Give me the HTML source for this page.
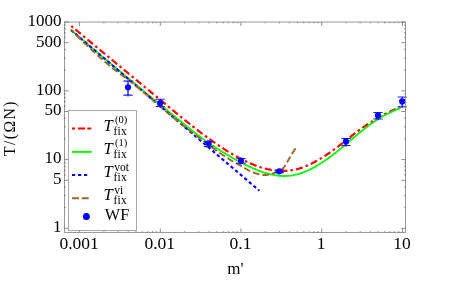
<!DOCTYPE html>
<html><head><meta charset="utf-8"><title>plot</title>
<style>html,body{margin:0;padding:0;background:#fff;}body{width:457px;height:285px;overflow:hidden;position:relative;font-family:"Liberation Serif",serif;}</style>
</head><body>
<svg width="457" height="285" viewBox="0 0 457 285" style="position:absolute;left:0;top:0;will-change:transform">
<rect x="0" y="0" width="457" height="285" fill="#fff"/>
<g fill="none" stroke-linecap="butt" stroke-linejoin="round">
<path d="M71.30 26.01 L72.68 27.16 L74.05 28.31 L75.43 29.46 L76.81 30.61 L78.18 31.76 L79.56 32.91 L80.94 34.06 L82.32 35.20 L83.69 36.35 L85.07 37.50 L86.45 38.64 L87.82 39.79 L89.20 40.93 L90.58 42.08 L91.95 43.22 L93.33 44.37 L94.71 45.51 L96.09 46.66 L97.46 47.80 L98.84 48.94 L100.22 50.09 L101.59 51.23 L102.97 52.37 L104.35 53.51 L105.72 54.66 L107.10 55.80 L108.48 56.94 L109.86 58.08 L111.23 59.22 L112.61 60.36 L113.99 61.51 L115.36 62.65 L116.74 63.79 L118.12 64.93 L119.49 66.07 L120.87 67.21 L122.25 68.35 L123.63 69.49 L125.00 70.63 L126.38 71.77 L127.76 72.91 L129.13 74.05 L130.51 75.19 L131.89 76.33 L133.26 77.47 L134.64 78.61 L136.02 79.75 L137.40 80.89 L138.77 82.03 L140.15 83.17 L141.53 84.31 L142.90 85.45 L144.28 86.59 L145.66 87.73 L147.03 88.87 L148.41 90.01 L149.79 91.15 L151.17 92.29 L152.54 93.43 L153.92 94.57 L155.30 95.71 L156.67 96.85 L158.05 97.99 L159.43 99.13 L160.80 100.28 L162.18 101.42 L163.56 102.56 L164.94 103.70 L166.31 104.84 L167.69 105.99 L169.07 107.13 L170.44 108.27 L171.82 109.40 L173.20 110.54 L174.57 111.68 L175.95 112.81 L177.33 113.94 L178.71 115.07 L180.08 116.20 L181.46 117.32 L182.84 118.44 L184.21 119.55 L185.59 120.67 L186.97 121.77 L188.34 122.88 L189.72 123.98 L191.10 125.07 L192.47 126.16 L193.85 127.24 L195.23 128.32 L196.61 129.39 L197.98 130.45 L199.36 131.51 L200.74 132.56 L202.11 133.60 L203.49 134.64 L204.87 135.66 L206.24 136.68 L207.62 137.69 L209.00 138.70 L210.38 139.69 L211.75 140.68 L213.13 141.65 L214.51 142.62 L215.88 143.57 L217.26 144.52 L218.64 145.45 L220.01 146.38 L221.39 147.29 L222.77 148.19 L224.15 149.08 L225.52 149.96 L226.90 150.83 L228.28 151.68 L229.65 152.52 L231.03 153.35 L232.41 154.17 L233.78 154.97 L235.16 155.75 L236.54 156.53 L237.92 157.29 L239.29 158.03 L240.67 158.76 L242.05 159.47 L243.42 160.17 L244.80 160.85 L246.18 161.51 L247.55 162.15 L248.93 162.77 L250.31 163.38 L251.69 163.96 L253.06 164.53 L254.44 165.08 L255.82 165.60 L257.19 166.10 L258.57 166.58 L259.95 167.04 L261.32 167.48 L262.70 167.89 L264.08 168.28 L265.46 168.64 L266.83 168.98 L268.21 169.29 L269.59 169.58 L270.96 169.84 L272.34 170.07 L273.72 170.28 L275.09 170.46 L276.47 170.61 L277.85 170.73 L279.23 170.82 L280.60 170.89 L281.98 170.92 L283.36 170.92 L284.73 170.89 L286.11 170.82 L287.49 170.73 L288.86 170.60 L290.24 170.44 L291.62 170.25 L292.99 170.02 L294.37 169.75 L295.75 169.45 L297.13 169.12 L298.50 168.75 L299.88 168.34 L301.26 167.90 L302.63 167.43 L304.01 166.92 L305.39 166.39 L306.76 165.82 L308.14 165.22 L309.52 164.60 L310.90 163.94 L312.27 163.26 L313.65 162.55 L315.03 161.82 L316.40 161.07 L317.78 160.29 L319.16 159.48 L320.53 158.66 L321.91 157.82 L323.29 156.95 L324.67 156.06 L326.04 155.16 L327.42 154.24 L328.80 153.30 L330.17 152.34 L331.55 151.37 L332.93 150.38 L334.30 149.38 L335.68 148.36 L337.06 147.33 L338.44 146.28 L339.81 145.23 L341.19 144.16 L342.57 143.09 L343.94 142.00 L345.32 140.92 L346.70 139.83 L348.07 138.73 L349.45 137.64 L350.83 136.56 L352.21 135.48 L353.58 134.41 L354.96 133.35 L356.34 132.30 L357.71 131.27 L359.09 130.26 L360.47 129.26 L361.84 128.28 L363.22 127.32 L364.60 126.37 L365.98 125.44 L367.35 124.52 L368.73 123.62 L370.11 122.74 L371.48 121.87 L372.86 121.01 L374.24 120.17 L375.61 119.34 L376.99 118.53 L378.37 117.73 L379.75 116.95 L381.12 116.18 L382.50 115.42 L383.88 114.68 L385.25 113.95 L386.63 113.25 L388.01 112.56 L389.38 111.88 L390.76 111.23 L392.14 110.60 L393.52 109.99 L394.89 109.40 L396.27 108.83 L397.65 108.28 L399.02 107.76 L400.40 107.26" stroke="#ff0000" stroke-width="2.2" stroke-dasharray="2.6 3.05 7.05 3.05" stroke-dashoffset="0.3"/>
<path d="M70.90 29.87 L72.28 31.06 L73.66 32.25 L75.04 33.44 L76.41 34.62 L77.79 35.80 L79.17 36.99 L80.55 38.17 L81.93 39.35 L83.31 40.52 L84.69 41.70 L86.07 42.88 L87.44 44.05 L88.82 45.23 L90.20 46.40 L91.58 47.57 L92.96 48.74 L94.34 49.91 L95.72 51.08 L97.09 52.24 L98.47 53.41 L99.85 54.57 L101.23 55.74 L102.61 56.90 L103.99 58.06 L105.37 59.22 L106.75 60.38 L108.12 61.54 L109.50 62.70 L110.88 63.85 L112.26 65.01 L113.64 66.16 L115.02 67.32 L116.40 68.47 L117.77 69.62 L119.15 70.77 L120.53 71.92 L121.91 73.07 L123.29 74.22 L124.67 75.37 L126.05 76.51 L127.43 77.66 L128.80 78.80 L130.18 79.95 L131.56 81.09 L132.94 82.23 L134.32 83.38 L135.70 84.52 L137.08 85.66 L138.45 86.80 L139.83 87.94 L141.21 89.07 L142.59 90.21 L143.97 91.35 L145.35 92.49 L146.73 93.62 L148.11 94.76 L149.48 95.89 L150.86 97.02 L152.24 98.16 L153.62 99.29 L155.00 100.42 L156.38 101.55 L157.76 102.68 L159.13 103.82 L160.51 104.95 L161.89 106.07 L163.27 107.20 L164.65 108.33 L166.03 109.46 L167.41 110.59 L168.78 111.71 L170.16 112.84 L171.54 113.96 L172.92 115.09 L174.30 116.21 L175.68 117.33 L177.06 118.45 L178.44 119.57 L179.81 120.68 L181.19 121.80 L182.57 122.91 L183.95 124.02 L185.33 125.13 L186.71 126.24 L188.09 127.34 L189.46 128.44 L190.84 129.54 L192.22 130.64 L193.60 131.73 L194.98 132.81 L196.36 133.89 L197.74 134.96 L199.12 136.02 L200.49 137.06 L201.87 138.10 L203.25 139.12 L204.63 140.13 L206.01 141.12 L207.39 142.10 L208.77 143.06 L210.14 144.01 L211.52 144.95 L212.90 145.87 L214.28 146.79 L215.66 147.68 L217.04 148.57 L218.42 149.45 L219.80 150.31 L221.17 151.17 L222.55 152.01 L223.93 152.85 L225.31 153.67 L226.69 154.48 L228.07 155.29 L229.45 156.09 L230.82 156.88 L232.20 157.66 L233.58 158.43 L234.96 159.20 L236.34 159.96 L237.72 160.72 L239.10 161.46 L240.48 162.20 L241.85 162.92 L243.23 163.64 L244.61 164.34 L245.99 165.03 L247.37 165.71 L248.75 166.37 L250.13 167.02 L251.50 167.66 L252.88 168.27 L254.26 168.87 L255.64 169.45 L257.02 170.02 L258.40 170.56 L259.78 171.08 L261.16 171.58 L262.53 172.06 L263.91 172.52 L265.29 172.95 L266.67 173.35 L268.05 173.73 L269.43 174.09 L270.81 174.42 L272.18 174.72 L273.56 174.99 L274.94 175.23 L276.32 175.44 L277.70 175.62 L279.08 175.76 L280.46 175.88 L281.84 175.96 L283.21 176.00 L284.59 176.01 L285.97 175.99 L287.35 175.92 L288.73 175.82 L290.11 175.68 L291.49 175.50 L292.86 175.28 L294.24 175.02 L295.62 174.72 L297.00 174.39 L298.38 174.01 L299.76 173.60 L301.14 173.15 L302.52 172.67 L303.89 172.16 L305.27 171.61 L306.65 171.03 L308.03 170.41 L309.41 169.77 L310.79 169.09 L312.17 168.39 L313.54 167.65 L314.92 166.89 L316.30 166.11 L317.68 165.29 L319.06 164.45 L320.44 163.59 L321.82 162.70 L323.19 161.79 L324.57 160.86 L325.95 159.90 L327.33 158.93 L328.71 157.94 L330.09 156.92 L331.47 155.89 L332.85 154.84 L334.22 153.78 L335.60 152.70 L336.98 151.60 L338.36 150.49 L339.74 149.37 L341.12 148.23 L342.50 147.09 L343.87 145.94 L345.25 144.78 L346.63 143.62 L348.01 142.46 L349.39 141.29 L350.77 140.12 L352.15 138.95 L353.53 137.79 L354.90 136.63 L356.28 135.47 L357.66 134.33 L359.04 133.19 L360.42 132.06 L361.80 130.94 L363.18 129.83 L364.55 128.74 L365.93 127.67 L367.31 126.61 L368.69 125.58 L370.07 124.56 L371.45 123.56 L372.83 122.59 L374.21 121.64 L375.58 120.72 L376.96 119.83 L378.34 118.97 L379.72 118.13 L381.10 117.32 L382.48 116.54 L383.86 115.78 L385.23 115.04 L386.61 114.32 L387.99 113.62 L389.37 112.94 L390.75 112.27 L392.13 111.62 L393.51 110.99 L394.89 110.36 L396.26 109.75 L397.64 109.15 L399.02 108.55 L400.40 107.96" stroke="#00ff00" stroke-width="1.8"/>
<path d="M70.90 30.00 L259.30 190.62" stroke="#0000ff" stroke-width="2.15" stroke-dasharray="3.3 2.7"/>
<path d="M70.90 29.61 L71.66 30.39 L72.41 31.17 L73.17 31.94 L73.93 32.71 L74.69 33.48 L75.44 34.24 L76.20 35.00 L76.96 35.76 L77.71 36.52 L78.47 37.27 L79.23 38.02 L79.99 38.76 L80.74 39.51 L81.50 40.25 L82.26 40.98 L83.02 41.72 L83.77 42.45 L84.53 43.17 L85.29 43.90 L86.04 44.62 L86.80 45.34 L87.56 46.06 L88.32 46.77 L89.07 47.48 L89.83 48.19 L90.59 48.90 L91.34 49.60 L92.10 50.30 L92.86 51.00 L93.62 51.69 L94.37 52.38 L95.13 53.07 L95.89 53.76 L96.64 54.44 L97.40 55.12 L98.16 55.80 L98.92 56.48 L99.67 57.15 L100.43 57.82 L101.19 58.49 L101.94 59.16 L102.70 59.82 L103.46 60.48 L104.22 61.13 L104.97 61.78 L105.73 62.43 L106.49 63.07 L107.25 63.71 L108.00 64.34 L108.76 64.97 L109.52 65.59 L110.27 66.21 L111.03 66.82 L111.79 67.43 L112.55 68.03 L113.30 68.62 L114.06 69.21 L114.82 69.80 L115.57 70.38 L116.33 70.95 L117.09 71.53 L117.85 72.10 L118.60 72.66 L119.36 73.23 L120.12 73.80 L120.87 74.36 L121.63 74.93 L122.39 75.49 L123.15 76.06 L123.90 76.62 L124.66 77.19 L125.42 77.76 L126.17 78.34 L126.93 78.91 L127.69 79.49 L128.45 80.08 L129.20 80.66 L129.96 81.25 L130.72 81.85 L131.48 82.44 L132.23 83.04 L132.99 83.65 L133.75 84.25 L134.50 84.86 L135.26 85.47 L136.02 86.08 L136.78 86.69 L137.53 87.31 L138.29 87.93 L139.05 88.55 L139.80 89.18 L140.56 89.80 L141.32 90.43 L142.08 91.06 L142.83 91.69 L143.59 92.32 L144.35 92.95 L145.10 93.59 L145.86 94.22 L146.62 94.86 L147.38 95.50 L148.13 96.14 L148.89 96.78 L149.65 97.42 L150.41 98.06 L151.16 98.71 L151.92 99.35 L152.68 99.99 L153.43 100.64 L154.19 101.28 L154.95 101.93 L155.71 102.57 L156.46 103.22 L157.22 103.87 L157.98 104.51 L158.73 105.16 L159.49 105.80 L160.25 106.45 L161.01 107.09 L161.76 107.74 L162.52 108.38 L163.28 109.02 L164.03 109.67 L164.79 110.31 L165.55 110.95 L166.31 111.59 L167.06 112.23 L167.82 112.87 L168.58 113.51 L169.33 114.14 L170.09 114.78 L170.85 115.41 L171.61 116.05 L172.36 116.68 L173.12 117.31 L173.88 117.94 L174.64 118.56 L175.39 119.19 L176.15 119.81 L176.91 120.44 L177.66 121.06 L178.42 121.67 L179.18 122.29 L179.94 122.90 L180.69 123.52 L181.45 124.12 L182.21 124.73 L182.96 125.34 L183.72 125.94 L184.48 126.54 L185.24 127.14 L185.99 127.74 L186.75 128.33 L187.51 128.92 L188.26 129.51 L189.02 130.10 L189.78 130.69 L190.54 131.27 L191.29 131.86 L192.05 132.44 L192.81 133.02 L193.56 133.60 L194.32 134.17 L195.08 134.75 L195.84 135.32 L196.59 135.90 L197.35 136.47 L198.11 137.04 L198.87 137.61 L199.62 138.17 L200.38 138.74 L201.14 139.31 L201.89 139.87 L202.65 140.43 L203.41 141.00 L204.17 141.56 L204.92 142.12 L205.68 142.68 L206.44 143.24 L207.19 143.80 L207.95 144.35 L208.71 144.91 L209.47 145.47 L210.22 146.03 L210.98 146.58 L211.74 147.14 L212.49 147.69 L213.25 148.25 L214.01 148.80 L214.77 149.36 L215.52 149.91 L216.28 150.46 L217.04 151.01 L217.79 151.55 L218.55 152.10 L219.31 152.64 L220.07 153.18 L220.82 153.71 L221.58 154.24 L222.34 154.76 L223.10 155.28 L223.85 155.80 L224.61 156.31 L225.37 156.81 L226.12 157.31 L226.88 157.80 L227.64 158.28 L228.40 158.76 L229.15 159.22 L229.91 159.68 L230.67 160.13 L231.42 160.58 L232.18 161.01 L232.94 161.43 L233.70 161.85 L234.45 162.27 L235.21 162.68 L235.97 163.09 L236.72 163.50 L237.48 163.91 L238.24 164.33 L239.00 164.74 L239.75 165.17 L240.51 165.60 L241.27 166.03 L242.03 166.48 L242.78 166.94 L243.54 167.40 L244.30 167.87 L245.05 168.33 L245.81 168.79 L246.57 169.24 L247.33 169.68 L248.08 170.11 L248.84 170.51 L249.60 170.90 L250.35 171.26 L251.11 171.60 L251.87 171.93 L252.63 172.23 L253.38 172.52 L254.14 172.79 L254.90 173.05 L255.65 173.31 L256.41 173.55 L257.17 173.77 L257.93 173.98 L258.68 174.18 L259.44 174.36 L260.20 174.52 L260.95 174.67 L261.71 174.79 L262.47 174.89 L263.23 174.96 L263.98 175.01 L264.74 175.04 L265.50 175.04 L266.26 175.00 L267.01 174.94 L267.77 174.85 L268.53 174.72 L269.28 174.56 L270.04 174.37 L270.80 174.15 L271.56 173.90 L272.31 173.63 L273.07 173.34 L273.83 173.04 L274.58 172.72 L275.34 172.40 L276.10 172.07 L276.86 171.74 L277.61 171.40 L278.37 171.08 L279.13 170.75 L279.88 170.44 L280.64 170.09 L281.40 169.68 L282.16 169.17 L282.91 168.54 L283.67 167.75 L284.43 166.77 L285.18 165.62 L285.94 164.36 L286.70 163.03 L287.46 161.69 L288.21 160.35 L288.97 159.02 L289.73 157.70 L290.49 156.40 L291.24 155.12 L292.00 153.85 L292.76 152.62 L293.51 151.42 L294.27 150.24 L295.03 149.11 L295.79 148.02 L296.54 146.97 L297.30 145.98" stroke="#a0662b" stroke-width="1.95" stroke-dasharray="6.74 3.02" stroke-dashoffset="2.2"/>
</g>
<g stroke="#0000ff" stroke-width="1.15" fill="#0000ff">
<path d="M128.0 81.1 V96.4" fill="none" stroke-width="1.25"/>
<path d="M123.4 81.1 H132.6 M123.4 95.1 H132.6" fill="none" stroke-width="1.05" stroke="#1a1aff"/>
<circle cx="128.0" cy="87.3" r="3.1" stroke="none"/>
<path d="M160.2 99.2 V107.8" fill="none" stroke-width="1.25"/>
<path d="M155.6 99.2 H164.8 M155.6 106.5 H164.8" fill="none" stroke-width="1.05" stroke="#1a1aff"/>
<circle cx="160.2" cy="103.0" r="3.1" stroke="none"/>
<path d="M208.6 141.6 V147.9" fill="none" stroke-width="1.25"/>
<path d="M204.0 141.6 H213.2 M204.0 146.6 H213.2" fill="none" stroke-width="1.05" stroke="#1a1aff"/>
<circle cx="208.6" cy="143.3" r="3.1" stroke="none"/>
<path d="M241.0 158.4 V164.6" fill="none" stroke-width="1.25"/>
<path d="M236.4 158.4 H245.6 M236.4 163.3 H245.6" fill="none" stroke-width="1.05" stroke="#1a1aff"/>
<circle cx="241.0" cy="160.7" r="3.1" stroke="none"/>
<path d="M279.3 170.3 V173.9" fill="none" stroke-width="1.25"/>
<path d="M274.7 170.3 H283.9 M274.7 172.6 H283.9" fill="none" stroke-width="1.05" stroke="#1a1aff"/>
<circle cx="279.3" cy="171.3" r="3.1" stroke="none"/>
<path d="M346.0 138.5 V146.8" fill="none" stroke-width="1.25"/>
<path d="M341.4 138.5 H350.6 M341.4 145.5 H350.6" fill="none" stroke-width="1.05" stroke="#1a1aff"/>
<circle cx="346.0" cy="141.4" r="3.1" stroke="none"/>
<path d="M378.0 112.4 V120.3" fill="none" stroke-width="1.25"/>
<path d="M373.4 112.4 H382.6 M373.4 119.0 H382.6" fill="none" stroke-width="1.05" stroke="#1a1aff"/>
<circle cx="378.0" cy="115.4" r="3.1" stroke="none"/>
<path d="M402.2 97.0 V108.1" fill="none" stroke-width="1.25"/>
<path d="M397.6 97.0 H406.8 M397.6 106.8 H406.8" fill="none" stroke-width="1.05" stroke="#1a1aff"/>
<circle cx="402.2" cy="101.4" r="3.1" stroke="none"/>
</g>
<rect x="68.5" y="110.5" width="68" height="120" fill="#fff" stroke="#a8a8a8" stroke-width="1"/>
<g fill="none">
<path d="M72 128.5 H91.2" stroke="#ff0000" stroke-width="2.2" stroke-dasharray="3.2 2.7 7.3 2.1 3.9 10"/>
<path d="M72 151.9 H91.7" stroke="#00ff00" stroke-width="1.9"/>
<path d="M72 175 H87.3" stroke="#0000ff" stroke-width="2.1" stroke-dasharray="3.2 2.8"/>
<path d="M72 198.3 H88.7" stroke="#a0662b" stroke-width="2.0" stroke-dasharray="7 2.7"/>
</g>
<circle cx="86.4" cy="216.6" r="3.5" fill="#0000ff"/>
<rect x="64.50" y="22.05" width="341.00" height="210.40" fill="none" stroke="#969696" stroke-width="1"/>
<g stroke="#606060" stroke-width="0.7" fill="none">
<path d="M79.6 22.05 v4.0 M79.6 232.45 v-1.6 M103.9 22.05 v1.3 M103.9 232.45 v-1.3 M118.1 22.05 v1.3 M118.1 232.45 v-1.3 M128.2 22.05 v1.3 M128.2 232.45 v-1.3 M136.0 22.05 v1.3 M136.0 232.45 v-1.3 M142.4 22.05 v1.3 M142.4 232.45 v-1.3 M147.8 22.05 v1.3 M147.8 232.45 v-1.3 M152.5 22.05 v1.3 M152.5 232.45 v-1.3 M156.6 22.05 v1.3 M156.6 232.45 v-1.3 M160.3 22.05 v4.0 M160.3 232.45 v-4.0 M184.6 22.05 v1.3 M184.6 232.45 v-1.3 M198.8 22.05 v1.3 M198.8 232.45 v-1.3 M208.9 22.05 v1.3 M208.9 232.45 v-1.3 M216.7 22.05 v1.3 M216.7 232.45 v-1.3 M223.1 22.05 v1.3 M223.1 232.45 v-1.3 M228.5 22.05 v1.3 M228.5 232.45 v-1.3 M233.2 22.05 v1.3 M233.2 232.45 v-1.3 M237.3 22.05 v1.3 M237.3 232.45 v-1.3 M241.0 22.05 v4.0 M241.0 232.45 v-4.0 M265.3 22.05 v1.3 M265.3 232.45 v-1.3 M279.5 22.05 v1.3 M279.5 232.45 v-1.3 M289.6 22.05 v1.3 M289.6 232.45 v-1.3 M297.4 22.05 v1.3 M297.4 232.45 v-1.3 M303.8 22.05 v1.3 M303.8 232.45 v-1.3 M309.2 22.05 v1.3 M309.2 232.45 v-1.3 M313.9 22.05 v1.3 M313.9 232.45 v-1.3 M318.0 22.05 v1.3 M318.0 232.45 v-1.3 M321.7 22.05 v4.0 M321.7 232.45 v-4.0 M346.0 22.05 v1.3 M346.0 232.45 v-1.3 M360.2 22.05 v1.3 M360.2 232.45 v-1.3 M370.3 22.05 v1.3 M370.3 232.45 v-1.3 M378.1 22.05 v1.3 M378.1 232.45 v-1.3 M384.5 22.05 v1.3 M384.5 232.45 v-1.3 M389.9 22.05 v1.3 M389.9 232.45 v-1.3 M394.6 22.05 v1.3 M394.6 232.45 v-1.3 M398.7 22.05 v1.3 M398.7 232.45 v-1.3 M402.4 22.05 v4.0 M402.4 232.45 v-4.0 M64.5 228.4 h3.5 M405.5 228.4 h-4.2 M64.5 207.7 h1.5 M405.5 207.7 h-1.5 M64.5 195.6 h1.5 M405.5 195.6 h-1.5 M64.5 187.0 h1.5 M405.5 187.0 h-1.5 M64.5 180.3 h3.5 M405.5 180.3 h-4.2 M64.5 174.9 h1.5 M405.5 174.9 h-1.5 M64.5 170.3 h1.5 M405.5 170.3 h-1.5 M64.5 166.3 h1.5 M405.5 166.3 h-1.5 M64.5 162.7 h1.5 M405.5 162.7 h-1.5 M64.5 159.6 h3.5 M405.5 159.6 h-4.2 M64.5 138.9 h1.5 M405.5 138.9 h-1.5 M64.5 126.8 h1.5 M405.5 126.8 h-1.5 M64.5 118.2 h1.5 M405.5 118.2 h-1.5 M64.5 111.5 h3.5 M405.5 111.5 h-4.2 M64.5 106.1 h1.5 M405.5 106.1 h-1.5 M64.5 101.5 h1.5 M405.5 101.5 h-1.5 M64.5 97.5 h1.5 M405.5 97.5 h-1.5 M64.5 93.9 h1.5 M405.5 93.9 h-1.5 M64.5 90.8 h4.2 M405.5 90.8 h-4.2 M64.5 70.1 h1.5 M405.5 70.1 h-1.5 M64.5 58.0 h1.5 M405.5 58.0 h-1.5 M64.5 49.4 h1.5 M405.5 49.4 h-1.5 M64.5 42.7 h4.2 M405.5 42.7 h-4.2 M64.5 37.3 h1.5 M405.5 37.3 h-1.5 M64.5 32.7 h1.5 M405.5 32.7 h-1.5 M64.5 28.7 h1.5 M405.5 28.7 h-1.5 M64.5 25.1 h1.5 M405.5 25.1 h-1.5 M64.5 22.0 h4.2 M405.5 22.0 h-4.2"/>
</g>
<g font-family="'Liberation Serif', serif" font-size="17.5" fill="#000">
<text x="61.4" y="25.8" text-anchor="end" font-size="17">1000</text>
<text x="61.4" y="46.5" text-anchor="end" font-size="17">500</text>
<text x="61.4" y="94.6" text-anchor="end" font-size="17">100</text>
<text x="61.4" y="115.3" text-anchor="end" font-size="17">50</text>
<text x="61.4" y="163.4" text-anchor="end" font-size="17">10</text>
<text x="61.4" y="184.1" text-anchor="end" font-size="17">5</text>
<text x="61.4" y="232.2" text-anchor="end" font-size="17">1</text>
<text x="79.1" y="249.2" text-anchor="middle">0.001</text>
<text x="159.8" y="249.2" text-anchor="middle">0.01</text>
<text x="240.5" y="249.2" text-anchor="middle">0.1</text>
<text x="321.2" y="249.2" text-anchor="middle">1</text>
<text x="401.9" y="249.2" text-anchor="middle">10</text>
<text x="235.5" y="274.2" text-anchor="middle" font-size="17">m'</text>
<text transform="translate(14.6 128.0) rotate(-90)" text-anchor="middle" letter-spacing="1.4" font-size="15.7">T/(ΩN)</text>
<text x="103.5" y="131.0" font-style="italic" font-size="16.5">T</text>
<text x="113.6" y="134.6" font-size="11.5" letter-spacing="0.15">fix</text>
<text x="115.0" y="122.7" font-size="10.6">(0)</text>
<text x="103.5" y="154.4" font-style="italic" font-size="16.5">T</text>
<text x="113.6" y="158.0" font-size="11.5" letter-spacing="0.15">fix</text>
<text x="115.0" y="146.1" font-size="10.6">(1)</text>
<text x="103.5" y="177.0" font-style="italic" font-size="16.5">T</text>
<text x="113.6" y="180.6" font-size="11.5" letter-spacing="0.15">fix</text>
<text x="114.2" y="170.5" font-size="11.5">vot</text>
<text x="103.5" y="200.0" font-style="italic" font-size="16.5">T</text>
<text x="113.6" y="203.6" font-size="11.5" letter-spacing="0.15">fix</text>
<text x="114.2" y="193.5" font-size="11.5">vi</text>
<text x="104.8" y="220.3" font-size="16.3">WF</text>
</g>
</svg>
</body></html>
